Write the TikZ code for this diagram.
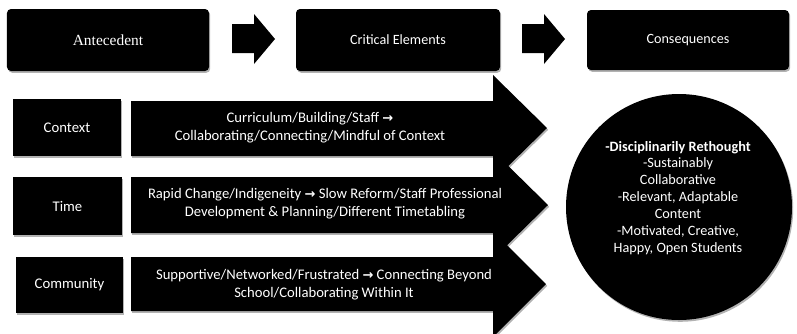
\documentclass[tikz,border=0pt]{standalone}
\usepackage{fontspec}
\setmainfont{Carlito}
\newfontfamily\serifface{Liberation Serif}
\newfontfamily\symface{DejaVu Sans}
\usetikzlibrary{shadows}
\newcommand{\rarrow}{{\symface\bfseries\fontsize{13}{13}\selectfont →}}
\tikzset{
  shd/.style={drop shadow={shadow xshift=1.2bp, shadow yshift=-1.8bp, opacity=0.3, fill=black}},
  topbox/.style={fill=black, rounded corners=4bp, shd, text=white, inner sep=0pt,
    font=\fontsize{14.2}{17}\selectfont},
  rowbox/.style={fill=black, shd, text=white, inner sep=0pt,
    font=\fontsize{14.8}{18}\selectfont},
  rowtext/.style={text=white, align=center, inner sep=0pt,
    font=\fontsize{14.7}{18}\selectfont},
  bigarrow/.style={fill=black, shd},
  smallarrow/.style={fill=black},
}
\begin{document}
\begin{tikzpicture}[x=1bp,y=-1bp]
\useasboundingbox (0,0) rectangle (797,333);

% top row boxes
\node[topbox, minimum width=202bp, minimum height=62bp] (ante) at (108,40) {\serifface\fontsize{15.5}{17}\selectfont Antecedent};
\node[topbox, minimum width=204bp, minimum height=62bp] (crit) at (398,40) {Critical Elements};
\node[topbox, minimum width=202bp, minimum height=60bp] (cons) at (688,40) {Consequences};

% small block arrows between top boxes
\fill[smallarrow] (232,24) -- (254,24) -- (254,14) -- (275,39) -- (254,64) -- (254,53) -- (232,53) -- cycle;
\fill[smallarrow] (522,24) -- (544,24) -- (544,14) -- (565,39) -- (544,64) -- (544,53) -- (522,53) -- cycle;

% big block arrows
\fill[bigarrow] (131,101) -- (493,101) -- (493,75) -- (547,128) -- (493,181) -- (493,156) -- (131,156) -- cycle;
\fill[bigarrow] (131,177) -- (493,177) -- (493,151) -- (548,205) -- (493,259) -- (493,233) -- (131,233) -- cycle;
\fill[bigarrow] (131,257) -- (493,257) -- (493,231) -- (546,284) -- (493,337) -- (493,311) -- (131,311) -- cycle;

% row labels
\node[rowbox, minimum width=108bp, minimum height=57bp] (context) at (67,127.5) {Context};
\node[rowbox, minimum width=109bp, minimum height=58bp] (time) at (67.5,206) {Time};
\node[rowbox, minimum width=107bp, minimum height=56bp] (community) at (69.5,285) {Community};

% row texts
\node[rowtext] (ctxt) at (310,128) {Curriculum/Building/Staff \rarrow\\Collaborating/Connecting/Mindful of Context};
\node[rowtext] (ttxt) at (325,204) {Rapid Change/Indigeneity \rarrow{} Slow Reform/Staff Professional\\Development \& Planning/Different Timetabling};
\node[rowtext] (comtxt) at (324,285) {Supportive/Networked/Frustrated \rarrow{} Connecting Beyond\\School/Collaborating Within It};

% consequences circle
\fill[black, shd] (679,207) circle[radius=113];
\node[text=white, align=center, inner sep=0pt, font=\fontsize{14.3}{17}\selectfont] (res) at (678,198)
  {\textbf{-Disciplinarily Rethought}\\-Sustainably\\Collaborative\\-Relevant, Adaptable\\Content\\-Motivated, Creative,\\Happy, Open Students};
\end{tikzpicture}
\end{document}
